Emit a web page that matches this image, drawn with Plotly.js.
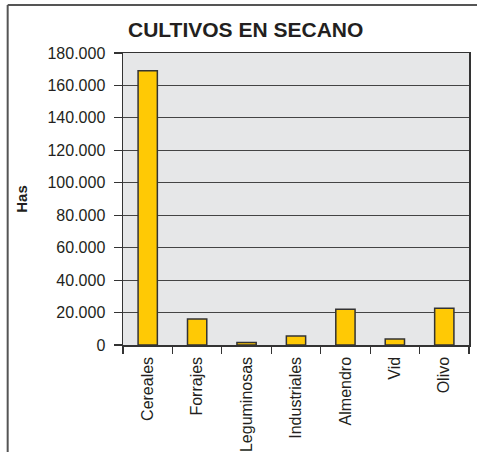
<!DOCTYPE html>
<html>
<head>
<meta charset="utf-8">
<script src="https://cdn.plot.ly/plotly-3.0.1.min.js"></script>
<style>html,body{margin:0;padding:0;background:#fff;}#chart{width:477px;height:452px;}</style>
</head>
<body>
<div id="chart"></div>
<script>
const categories = ["Cereales", "Forrajes", "Leguminosas", "Industriales", "Almendro", "Vid", "Olivo"];
const hectares = [169000, 16000, 1500, 5500, 22000, 3700, 22600];
const yTickValues = [0, 20000, 40000, 60000, 80000, 100000, 120000, 140000, 160000, 180000];

const fontFam = "Liberation Sans, Arial, Helvetica, sans-serif";

const trace = {
  type: "bar",
  x: categories,
  y: hectares,
  width: 0.39,
  marker: { color: "#ffc905", line: { color: "#333333", width: 1.5 } },
  hoverinfo: "x+y"
};

const layout = {
  width: 477,
  height: 452,
  margin: { l: 123, r: 8, t: 53, b: 107 },
  paper_bgcolor: "#ffffff",
  plot_bgcolor: "#e6e7e8",
  separators: ",.",
  showlegend: false,
  font: { family: fontFam, color: "#231f20", size: 16 },
  title: {
    text: "<b>CULTIVOS EN SECANO</b>",
    font: { family: fontFam, size: 21, color: "#231f20" },
    xref: "container", x: 0.515, xanchor: "center",
    yref: "container", y: 0.935, yanchor: "middle"
  },
  xaxis: {
    type: "category",
    tickson: "boundaries",
    ticks: "outside",
    ticklen: 7,
    tickcolor: "#333",
    tickwidth: 1.2,
    tickangle: -90,
    ticklabelstandoff: 4,
    showgrid: false,
    showline: true,
    linecolor: "#333",
    linewidth: 1.5,
    mirror: true,
    tickfont: { size: 16, family: fontFam, color: "#231f20" },
    fixedrange: true
  },
  yaxis: {
    range: [0, 180000],
    tickvals: yTickValues,
    tickformat: ",d",
    ticks: "outside",
    ticklen: 8,
    tickcolor: "#333",
    tickwidth: 1.2,
    ticklabelstandoff: 5,
    showgrid: true,
    gridcolor: "#444",
    gridwidth: 1,
    showline: true,
    linecolor: "#333",
    linewidth: 1.5,
    mirror: true,
    zeroline: false,
    tickfont: { size: 16, family: fontFam, color: "#231f20" },
    title: { text: "<b>Has</b>", font: { size: 15, family: fontFam, color: "#231f20" }, standoff: 16 },
    fixedrange: true
  },
  shapes: [
    { type: "line", xref: "paper", yref: "paper", x0: -0.3333, x1: 1.03, y0: 1.1644, y1: 1.1644, line: { color: "#555", width: 2 } },
    { type: "line", xref: "paper", yref: "paper", x0: -0.3333, x1: -0.3333, y0: 1.1644, y1: -0.37, line: { color: "#555", width: 2 } }
  ]
};

Plotly.newPlot("chart", [trace], layout, { displayModeBar: false, staticPlot: true });
</script>
</body>
</html>
